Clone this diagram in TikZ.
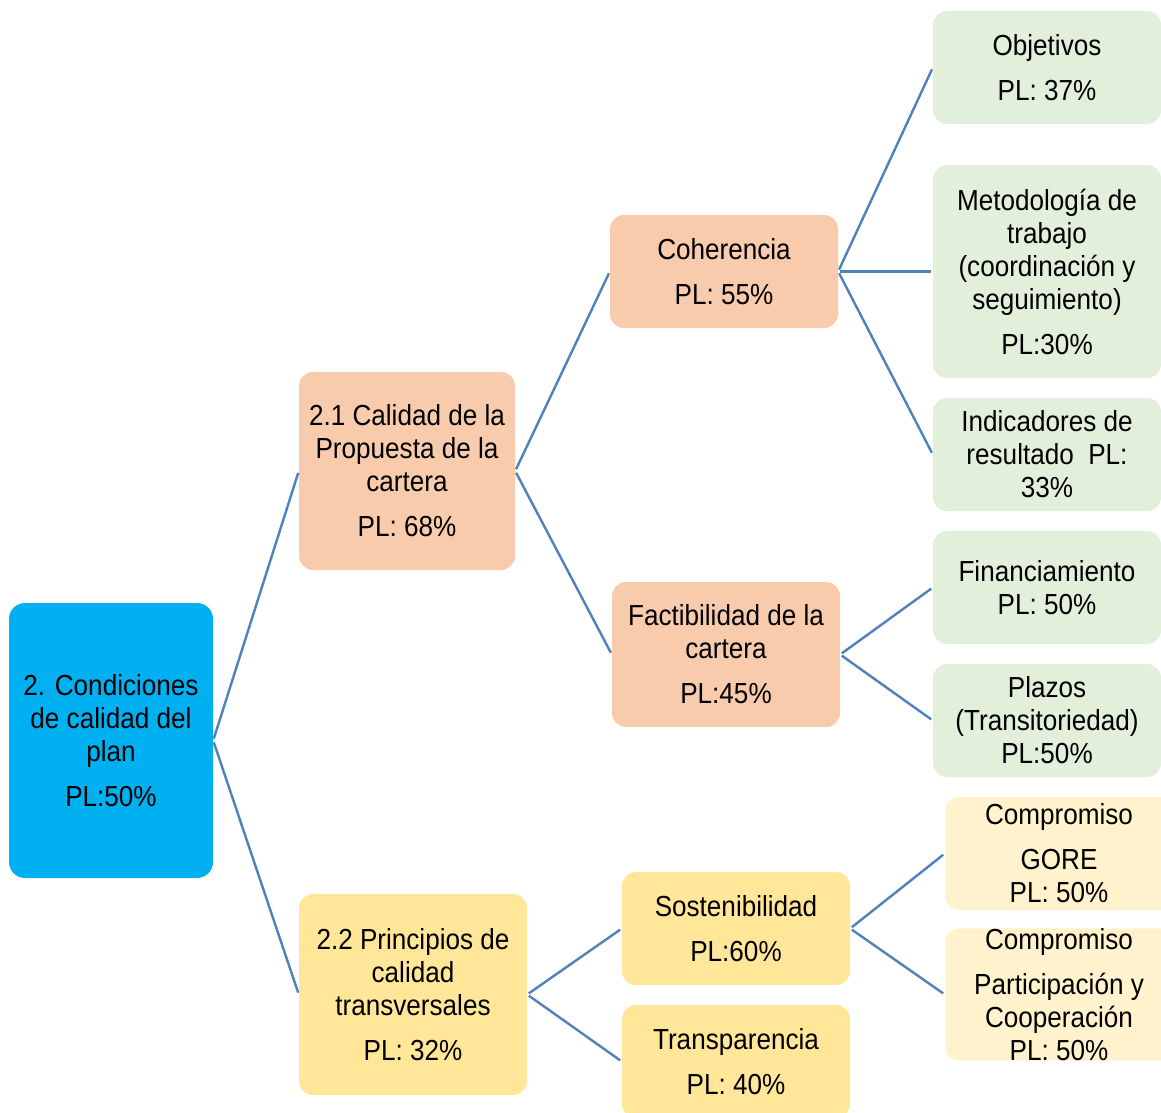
\documentclass[tikz,border=0pt]{standalone}
\usepackage{fontspec}
\setmainfont{Liberation Sans}[FakeStretch=0.9]
\usepackage{tikz}
\definecolor{rootblue}{HTML}{00B0F0}
\definecolor{peach}{HTML}{F8CBAD}
\definecolor{gold}{HTML}{FFE699}
\definecolor{sage}{HTML}{E2EFDA}
\definecolor{cream}{HTML}{FFF2CC}
\definecolor{linkblue}{HTML}{4F81BD}

\begin{document}
\begin{tikzpicture}[x=1pt,y=-1pt,
    box/.style={rounded corners=14pt,inner sep=0pt,align=center,
      font=\fontsize{29}{33}\selectfont,minimum width=228,minimum height=113},
    link/.style={draw=linkblue,line width=2.4pt,shorten <=2pt,shorten >=2pt}]
\useasboundingbox (0,0) rectangle (1161,1112);
\clip (0,0) rectangle (1161,1112);
      \node[box,fill=rootblue,minimum width=204,minimum height=275,rounded corners=16pt] (root) at (111,740.5)
        {2. Condiciones\\ de calidad del\\ plan\\[12pt] PL:50\%};
      \node[box,fill=peach,minimum width=216,minimum height=198] (calidad) at (407,471)
        {2.1 Calidad de la\\ Propuesta de la\\ cartera\\[12pt] PL: 68\%};
      \node[box,fill=gold,minimum height=201] (principios) at (413,994.5)
        {2.2 Principios de\\ calidad\\ transversales\\[12pt] PL: 32\%};
      \node[box,fill=peach] (coherencia) at (724,271.5) {Coherencia\\[12pt] PL: 55\%};
      \node[box,fill=peach,minimum height=145] (factibilidad) at (726,654.5)
        {Factibilidad de la\\ cartera\\[12pt] PL:45\%};
      \node[box,fill=gold] (sostenibilidad) at (736,928.5) {Sostenibilidad\\[12pt] PL:60\%};
      \node[box,fill=gold] (transparencia) at (736,1061.5) {Transparencia\\[12pt] PL: 40\%};
      \node[box,fill=sage] (objetivos) at (1047,67.5) {Objetivos\\[12pt] PL: 37\%};
      \node[box,fill=sage,minimum height=213] (metodologia) at (1047,271.5)
        {Metodología de\\ trabajo\\ (coordinación y\\ seguimiento)\\[12pt] PL:30\%};
      \node[box,fill=sage] (indicadores) at (1047,454.5) {Indicadores de\\ resultado~ PL:\\ 33\%};
      \node[box,fill=sage] (financiamiento) at (1047,587.5) {Financiamiento\\ PL: 50\%};
      \node[box,fill=sage] (plazos) at (1047,720.5) {Plazos\\ (Transitoriedad)\\ PL:50\%};
      \node[box,fill=cream] (gore) at (1059,853.5) {Compromiso\\[12pt] GORE\\ PL: 50\%};
      \node[box,fill=cream,minimum height=131] (participacion) at (1059,994.5)
        {Compromiso\\[12pt] Participación y\\ Cooperación\\ PL: 50\%};
      \draw[link] (root.east) -- (calidad.west);
      \draw[link] (root.east) -- (principios.west);
      \draw[link] (calidad.east) -- (coherencia.west);
      \draw[link] (calidad.east) -- (factibilidad.west);
      \draw[link] (principios.east) -- (sostenibilidad.west);
      \draw[link] (principios.east) -- (transparencia.west);
      \draw[link] (coherencia.east) -- (objetivos.west);
      \draw[link] (coherencia.east) -- (metodologia.west);
      \draw[link] (coherencia.east) -- (indicadores.west);
      \draw[link] (factibilidad.east) -- (financiamiento.west);
      \draw[link] (factibilidad.east) -- (plazos.west);
      \draw[link] (sostenibilidad.east) -- (gore.west);
      \draw[link] (sostenibilidad.east) -- (participacion.west);
\end{tikzpicture}
\end{document}
